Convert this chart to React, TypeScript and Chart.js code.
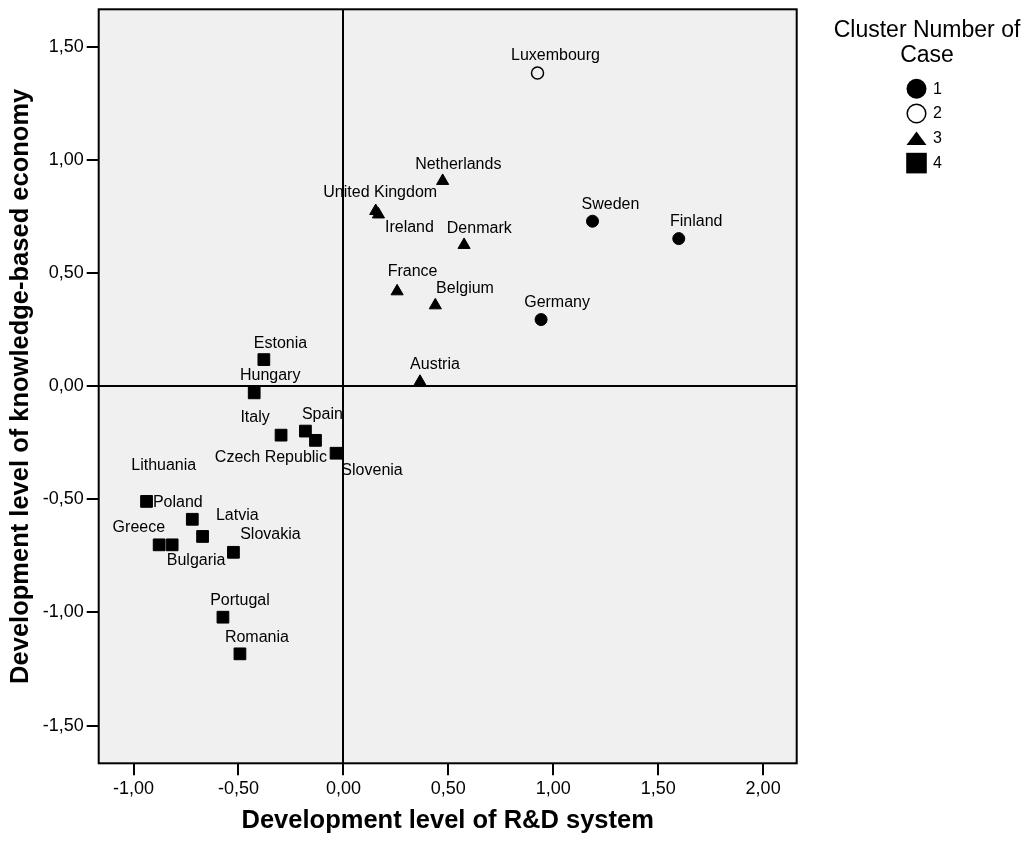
import React, { useEffect, useRef } from 'react';
import { Chart, registerables } from 'chart.js';

Chart.register(...registerables);

const FONT = "'Liberation Sans', Arial, Helvetica, sans-serif";

// ---- Data ----
const countries = [
  'Luxembourg', 'Sweden', 'Finland', 'Germany',
  'Netherlands', 'United Kingdom', 'Ireland', 'Denmark', 'France', 'Belgium', 'Austria',
  'Estonia', 'Hungary', 'Italy', 'Spain', 'Czech Republic', 'Slovenia',
  'Lithuania', 'Poland', 'Latvia', 'Greece', 'Bulgaria', 'Slovakia', 'Portugal', 'Romania',
];
const rdSystem = [
  0.925, 1.187, 1.598, 0.942,
  0.473, 0.154, 0.167, 0.575, 0.256, 0.438, 0.365,
  -0.379, -0.425, -0.297, -0.181, -0.133, -0.035,
  -0.938, -0.72, -0.671, -0.878, -0.816, -0.524, -0.574, -0.493,
];
const knowledgeEconomy = [
  1.385, 0.73, 0.653, 0.295,
  0.908, 0.775, 0.76, 0.625, 0.42, 0.358, 0.02,
  0.118, -0.029, -0.216, -0.198, -0.239, -0.296,
  -0.509, -0.588, -0.664, -0.701, -0.701, -0.734, -1.021, -1.183,
];
const clusterOfCase = [
  2, 1, 1, 1,
  3, 3, 3, 3, 3, 3, 3,
  4, 4, 4, 4, 4, 4,
  4, 4, 4, 4, 4, 4, 4, 4,
];
const clusterIds = [1, 2, 3, 4];
const legendTitle = ['Cluster Number of', 'Case'];
const xTitle = 'Development level of R&D system';
const yTitle = 'Development level of knowledge-based economy';

// ---- Layout (label placement offsets in px, relative to the marker) ----
const labelOffsets: [number, number][] = [
  [18, -17], [18, -16.5], [17.5, -17.3], [16, -16.5],
  [15.6, -16.2], [4.5, -18.5], [31, 13], [15.2, -16.5], [15.5, -20], [29.7, -16.4], [15, -16.8],
  [16.6, -16.2], [16, -16.8], [-26, -17.5], [17, -16.2], [-44.6, 17.2], [36, 17.2],
  [17.2, -36.3], [-14.5, -16.8], [34.7, -20.8], [-20.3, -16.9], [24, 16.1], [37, -17.5], [17, -17], [17, -16.5],
];

const markerStyles: Record<number, any> = {
  1: { pointStyle: 'circle', pointRadius: 6, backgroundColor: '#000', borderColor: '#000', borderWidth: 1 },
  2: { pointStyle: 'circle', pointRadius: 6, backgroundColor: 'rgba(0,0,0,0)', borderColor: '#000', borderWidth: 1.5 },
  3: { pointStyle: 'triangle', pointRadius: 7, backgroundColor: '#000', borderColor: '#000', borderWidth: 1 },
  4: { pointStyle: 'rect', pointRadius: 8.3, backgroundColor: '#000', borderColor: '#000', borderWidth: 1 },
};

const fmt = (v: number) => Number(v).toFixed(2).replace('.', ',');

const bgPlugin = {
  id: 'plotBg',
  beforeDraw(chart: any) {
    const { ctx, chartArea: a } = chart;
    ctx.save();
    ctx.fillStyle = '#ffffff';
    ctx.fillRect(0, 0, chart.width, chart.height);
    ctx.fillStyle = '#f0f0f0';
    ctx.fillRect(a.left, a.top, a.right - a.left, a.bottom - a.top);
    ctx.restore();
  },
};

const labelPlugin = {
  id: 'pointLabels',
  afterDatasetsDraw(chart: any) {
    const ctx = chart.ctx;
    ctx.save();
    ctx.font = `16px ${FONT}`;
    ctx.fillStyle = '#000';
    ctx.textAlign = 'center';
    ctx.textBaseline = 'middle';
    chart.data.datasets.forEach((ds: any, di: number) => {
      const meta = chart.getDatasetMeta(di);
      meta.data.forEach((el: any, j: number) => {
        const idx = ds.data[j].i;
        const [dx, dy] = labelOffsets[idx];
        ctx.fillText(countries[idx], el.x + dx, el.y + dy);
      });
    });
    ctx.restore();
  },
};

const framePlugin = {
  id: 'frameAndLegend',
  afterDraw(chart: any) {
    const { ctx, chartArea: a } = chart;
    ctx.save();
    ctx.strokeStyle = '#000';
    ctx.lineWidth = 2;
    ctx.strokeRect(a.left, a.top, a.right - a.left, a.bottom - a.top);

    // legend
    const cx = 927;
    ctx.fillStyle = '#000';
    ctx.textAlign = 'center';
    ctx.textBaseline = 'middle';
    ctx.font = `23px ${FONT}`;
    legendTitle.forEach((t, k) => ctx.fillText(t, cx, 31 + k * 24.5));

    const sx = 916.5;
    const y0 = 88.7;
    const step = 24.8;
    ctx.font = `16px ${FONT}`;
    ctx.textAlign = 'left';
    clusterIds.forEach((id, k) => {
      const y = y0 + k * step;
      ctx.beginPath();
      if (id === 1) {
        ctx.arc(sx, y, 10, 0, Math.PI * 2);
        ctx.fill();
      } else if (id === 2) {
        ctx.arc(sx, y, 9.3, 0, Math.PI * 2);
        ctx.lineWidth = 1.5;
        ctx.stroke();
      } else if (id === 3) {
        ctx.moveTo(sx, y - 6.7);
        ctx.lineTo(sx + 10, y + 6.6);
        ctx.lineTo(sx - 10, y + 6.6);
        ctx.closePath();
        ctx.fill();
      } else {
        ctx.rect(sx - 10.3, y - 10.3, 20.6, 20.6);
        ctx.fill();
      }
      ctx.fillText(String(id), 933, y + 0.5);
    });
    ctx.restore();
  },
};

export default function App() {
  const canvasRef = useRef<HTMLCanvasElement | null>(null);

  useEffect(() => {
    document.body.style.margin = '0';
    const canvas = canvasRef.current;
    if (!canvas) return;

    const datasets = clusterIds.map((id) => ({
      label: String(id),
      data: countries
        .map((_, i) => i)
        .filter((i) => clusterOfCase[i] === id)
        .map((i) => ({ x: rdSystem[i], y: knowledgeEconomy[i], i })),
      showLine: false,
      ...markerStyles[id],
    }));

    const zeroColor = (c: any) => (c.tick && c.tick.value === 0 ? '#000' : 'rgba(0,0,0,0)');

    const chart = new Chart(canvas, {
      type: 'scatter',
      data: { datasets },
      options: {
        animation: false,
        responsive: true,
        maintainAspectRatio: false,
        events: [],
        layout: { padding: { top: 8, right: 230.3, bottom: 0, left: 0 } },
        plugins: {
          legend: { display: false },
          tooltip: { enabled: false },
        },
        scales: {
          x: {
            type: 'linear',
            min: -1.166,
            max: 2.16,
            border: { display: false },
            grid: {
              color: zeroColor,
              lineWidth: 2,
              drawTicks: true,
              tickLength: 12,
              tickColor: '#000',
              tickWidth: 2,
            },
            ticks: {
              stepSize: 0.5,
              includeBounds: false,
              autoSkip: false,
              maxRotation: 0,
              padding: 3,
              color: '#000',
              font: { family: FONT, size: 18 },
              callback: (v: any) => fmt(v),
            },
            title: {
              display: true,
              text: xTitle,
              color: '#000',
              font: { family: FONT, size: 25.5, weight: 'bold' },
              padding: { top: 0, bottom: 4.5 },
            },
            afterFit: (s: any) => {
              s.height = 77.7;
              s.paddingLeft = 0;
              s.paddingRight = 0;
            },
          },
          y: {
            type: 'linear',
            min: -1.667,
            max: 1.667,
            border: { display: false },
            grid: {
              color: zeroColor,
              lineWidth: 2,
              drawTicks: true,
              tickLength: 12,
              tickColor: '#000',
              tickWidth: 2,
            },
            ticks: {
              stepSize: 0.5,
              includeBounds: false,
              autoSkip: false,
              padding: 3,
              color: '#000',
              font: { family: FONT, size: 18 },
              callback: (v: any) => fmt(v),
            },
            title: {
              display: true,
              text: yTitle,
              color: '#000',
              font: { family: FONT, size: 25.5, weight: 'bold' },
              padding: { top: 6, bottom: 0 },
            },
            afterFit: (s: any) => {
              s.width = 98.7;
              s.paddingTop = 0;
              s.paddingBottom = 0;
            },
          },
        },
      } as any,
      plugins: [bgPlugin, labelPlugin, framePlugin],
    });

    return () => chart.destroy();
  }, []);

  return (
    <div style={{ position: 'relative', width: 1027, height: 841 }}>
      <canvas ref={canvasRef} />
    </div>
  );
}
